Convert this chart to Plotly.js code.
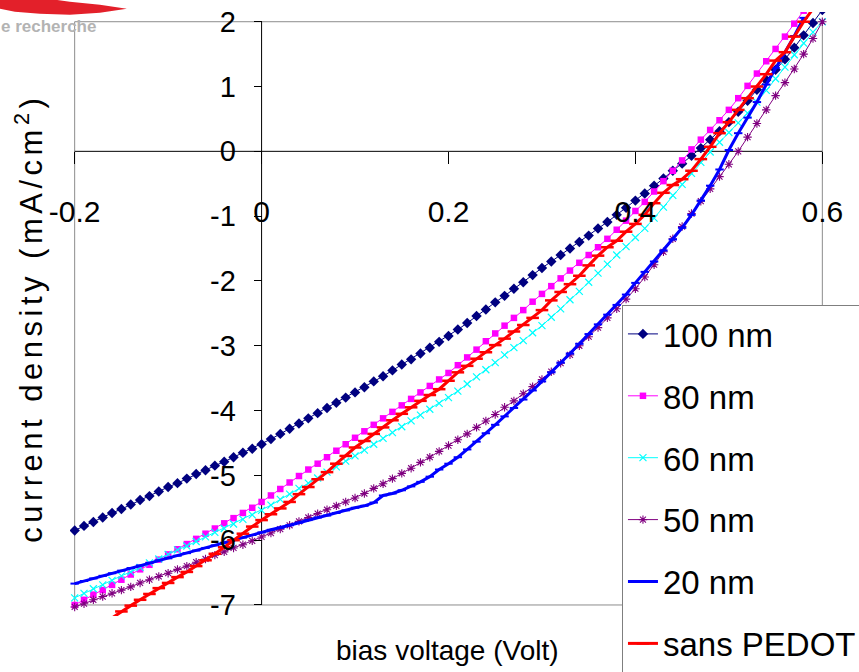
<!DOCTYPE html>
<html><head><meta charset="utf-8">
<script src="https://cdn.plot.ly/plotly-3.0.1.min.js"></script>
<style>html,body{margin:0;padding:0;background:#fff;overflow:hidden}#chart{width:859px;height:672px}</style>
</head><body><div id="chart"></div>
<script>
// ---------- data ----------
const voltage = [-0.20,-0.19,-0.18,-0.17,-0.16,-0.15,-0.14,-0.13,-0.12,-0.11,
 -0.10,-0.09,-0.08,-0.07,-0.06,-0.05,-0.04,-0.03,-0.02,-0.01,
 0.00,0.01,0.02,0.03,0.04,0.05,0.06,0.07,0.08,0.09,
 0.10,0.11,0.12,0.13,0.14,0.15,0.16,0.17,0.18,0.19,
 0.20,0.21,0.22,0.23,0.24,0.25,0.26,0.27,0.28,0.29,
 0.30,0.31,0.32,0.33,0.34,0.35,0.36,0.37,0.38,0.39,
 0.40,0.41,0.42,0.43,0.44,0.45,0.46,0.47,0.48,0.49,
 0.50,0.51,0.52,0.53,0.54,0.55,0.56,0.57,0.58,0.59,0.60];

const seriesNames = ['100 nm','80 nm','60 nm','50 nm','20 nm','sans PEDOT'];

const j100nm = [-5.85,-5.78,-5.72,-5.65,-5.58,-5.52,-5.45,-5.38,-5.32,-5.25,
 -5.18,-5.12,-5.05,-4.98,-4.92,-4.85,-4.79,-4.72,-4.65,-4.59,
 -4.52,-4.44,-4.36,-4.28,-4.20,-4.12,-4.04,-3.96,-3.88,-3.80,
 -3.72,-3.64,-3.55,-3.47,-3.38,-3.29,-3.21,-3.12,-3.03,-2.94,
 -2.85,-2.75,-2.65,-2.54,-2.44,-2.33,-2.23,-2.12,-2.02,-1.91,
 -1.80,-1.70,-1.60,-1.50,-1.40,-1.30,-1.19,-1.09,-0.98,-0.87,
 -0.76,-0.65,-0.53,-0.42,-0.30,-0.19,-0.07,0.05,0.18,0.31,
 0.45,0.61,0.78,0.95,1.10,1.26,1.42,1.60,1.79,1.98,2.18];

const j80nm = [-7.00,-6.92,-6.84,-6.77,-6.69,-6.61,-6.53,-6.45,-6.38,-6.30,
 -6.22,-6.14,-6.06,-5.98,-5.90,-5.82,-5.74,-5.66,-5.58,-5.50,
 -5.41,-5.31,-5.21,-5.11,-5.01,-4.91,-4.82,-4.72,-4.62,-4.52,
 -4.42,-4.32,-4.22,-4.12,-4.02,-3.92,-3.82,-3.72,-3.62,-3.52,
 -3.42,-3.30,-3.18,-3.06,-2.93,-2.81,-2.69,-2.57,-2.45,-2.32,
 -2.20,-2.08,-1.96,-1.84,-1.72,-1.60,-1.48,-1.35,-1.21,-1.07,
 -0.92,-0.78,-0.62,-0.46,-0.30,-0.14,0.03,0.18,0.33,0.48,
 0.64,0.82,1.01,1.20,1.39,1.58,1.77,1.97,2.17,null,null];

const j60nm = [-6.89,-6.82,-6.75,-6.69,-6.62,-6.55,-6.49,-6.42,-6.35,-6.29,
 -6.22,-6.15,-6.09,-6.02,-5.95,-5.88,-5.82,-5.75,-5.68,-5.61,
 -5.54,-5.46,-5.37,-5.29,-5.20,-5.12,-5.04,-4.95,-4.87,-4.78,
 -4.70,-4.61,-4.52,-4.43,-4.34,-4.25,-4.16,-4.07,-3.98,-3.89,
 -3.80,-3.70,-3.59,-3.48,-3.37,-3.26,-3.14,-3.03,-2.92,-2.80,
 -2.69,-2.56,-2.43,-2.29,-2.16,-2.02,-1.88,-1.74,-1.60,-1.47,
 -1.33,-1.19,-1.03,-0.86,-0.68,-0.51,-0.34,-0.17,-0.01,0.14,
 0.29,0.44,0.59,0.76,0.94,1.12,1.30,1.49,1.67,1.84,2.00];

const j50nm = [-7.03,-6.98,-6.92,-6.87,-6.82,-6.77,-6.72,-6.66,-6.61,-6.56,
 -6.51,-6.45,-6.40,-6.34,-6.29,-6.23,-6.18,-6.12,-6.07,-6.01,
 -5.95,-5.89,-5.83,-5.77,-5.71,-5.65,-5.59,-5.53,-5.47,-5.41,
 -5.35,-5.28,-5.20,-5.13,-5.05,-4.97,-4.89,-4.80,-4.72,-4.63,
 -4.54,-4.45,-4.36,-4.26,-4.16,-4.06,-3.95,-3.85,-3.74,-3.63,
 -3.52,-3.40,-3.27,-3.14,-3.00,-2.86,-2.72,-2.57,-2.43,-2.28,
 -2.12,-1.94,-1.75,-1.55,-1.35,-1.16,-0.96,-0.77,-0.58,-0.39,
 -0.20,0.00,0.22,0.43,0.64,0.86,1.06,1.27,1.50,1.74,2.00];

const j20nm = [-6.67,-6.63,-6.59,-6.55,-6.51,-6.47,-6.43,-6.39,-6.35,-6.31,
 -6.28,-6.24,-6.20,-6.16,-6.12,-6.08,-6.04,-6.00,-5.96,-5.92,
 -5.88,-5.84,-5.81,-5.77,-5.73,-5.69,-5.65,-5.62,-5.58,-5.54,
 -5.50,-5.47,-5.42,-5.31,-5.28,-5.23,-5.17,-5.10,-5.02,-4.91,
 -4.82,-4.72,-4.60,-4.48,-4.35,-4.22,-4.09,-3.96,-3.83,-3.69,
 -3.55,-3.41,-3.26,-3.12,-2.97,-2.82,-2.67,-2.52,-2.37,-2.21,
 -2.03,-1.86,-1.70,-1.53,-1.36,-1.18,-0.98,-0.76,-0.53,-0.28,
 0.02,0.28,0.52,0.76,1.03,1.29,1.53,1.78,2.06,null,null];

const jSansPedot = [null,null,null,null,-7.20,-7.10,-7.01,-6.92,-6.83,-6.74,
 -6.66,-6.57,-6.49,-6.40,-6.31,-6.21,-6.11,-6.00,-5.90,-5.79,
 -5.69,-5.60,-5.51,-5.41,-5.29,-5.18,-5.06,-4.95,-4.82,-4.70,
 -4.57,-4.47,-4.36,-4.26,-4.15,-4.05,-3.95,-3.85,-3.76,-3.67,
 -3.54,-3.41,-3.31,-3.20,-3.10,-2.99,-2.89,-2.78,-2.68,-2.57,
 -2.45,-2.30,-2.17,-2.05,-1.92,-1.76,-1.61,-1.48,-1.38,-1.24,
 -1.12,-0.98,-0.80,-0.64,-0.52,-0.43,-0.30,-0.12,0.07,0.28,
 0.45,0.64,0.82,1.00,1.19,1.40,1.53,1.77,2.00,2.20,null];

const xTickVals = [-0.2, 0, 0.2, 0.4, 0.6];
const xTickText = ['-0.2', '0', '0.2', '0.4', '0.6'];
const yTickVals = [-7, -6, -5, -4, -3, -2, -1, 0, 1, 2];
const yTickText = ['-7', '-6', '-5', '-4', '-3', '-2', '-1', '0', '1', '2'];
const xTitle = 'bias voltage (Volt)';
const yTitle = 'current density (mA/cm<sup>2</sup>)';
const logoText = 'e recherche';

// ---------- layout geometry ----------
const W = 859, H = 672;
const ML = 70.13, MR = 32.0, MT = 12.29, MB = 56.2;
const PW = W - ML - MR, PH = H - MT - MB;
const xRange = [-0.205, 0.605];
const yRange = [-7.17, 2.15];
const FONT = '"Liberation Sans", Arial, sans-serif';
function pxX(px) { return (px - ML) / PW; }
function pxY(py) { return 1 - (py - MT) / PH; }

const styles = [
  {color: '#000080', width: 1, symbol: 'diamond', size: 8, mlw: 0},
  {color: '#FF00FF', width: 1, symbol: 'square', size: 6.5, mlw: 0},
  {color: '#00FFFF', width: 1, symbol: 'x-thin', size: 7, mlw: 1.2},
  {color: '#800080', width: 1, symbol: 'asterisk', size: 7, mlw: 1.1},
  {color: '#0000FF', width: 3, symbol: 'line-ew', size: 6, mlw: 2},
  {color: '#FF0000', width: 3, symbol: 'line-ew', size: 9, mlw: 2.5}
];
const series = [j100nm, j80nm, j60nm, j50nm, j20nm, jSansPedot];

const traces = series.map((ys, i) => {
  const s = styles[i];
  return {
    type: 'scatter', mode: 'lines+markers', name: seriesNames[i],
    legendgroup: seriesNames[i],
    x: voltage, y: ys,
    line: {color: s.color, width: s.width},
    marker: {symbol: s.symbol, size: s.size, color: s.color,
             line: {color: s.color, width: s.mlw}},
    connectgaps: false
  };
});

const yAxisPos = (0 - xRange[0]) / (xRange[1] - xRange[0]);
const xAxisPos = (0 - yRange[0]) / (yRange[1] - yRange[0]);

function P(pts) {
  return pts.map((p, i) => (i === 0 ? 'M' : 'L') + pxX(p[0]).toFixed(4) + ',' + pxY(p[1]).toFixed(4)).join(' ') + ' Z';
}

const layout = {
  width: W, height: H,
  margin: {l: ML, r: MR, t: MT, b: MB, autoexpand: false},
  paper_bgcolor: '#fff', plot_bgcolor: '#fff',
  showlegend: true,
  xaxis: {
    range: xRange, anchor: 'free', position: xAxisPos,
    tickmode: 'array', tickvals: xTickVals, ticktext: xTickText,
    ticks: 'outside', ticklen: 12, tickwidth: 1, tickcolor: '#000',
    ticklabelstandoff: 22,
    tickfont: {family: FONT, size: 30, color: '#000'},
    showgrid: false, zeroline: false, showline: false
  },
  yaxis: {
    range: yRange, anchor: 'free', position: yAxisPos,
    tickmode: 'array', tickvals: yTickVals, ticktext: yTickText,
    ticks: 'outside', ticklen: 8, tickwidth: 1, tickcolor: '#000',
    ticklabelstandoff: 12,
    tickfont: {family: FONT, size: 29, color: '#000'},
    showgrid: false, zeroline: false, showline: false
  },
  legend: {
    x: pxX(622), y: pxY(305), xanchor: 'left', yanchor: 'top',
    bgcolor: '#fff', bordercolor: '#7f7f7f', borderwidth: 1,
    font: {family: FONT, size: 33, color: '#000'},
    tracegroupgap: 16, itemwidth: 30
  },
  shapes: [
    {type: 'rect', xref: 'x', yref: 'y', x0: -0.2, x1: 0.6, y0: -7, y1: 2,
     line: {color: '#8c8c8c', width: 1}, layer: 'below'},
    {type: 'line', xref: 'x', yref: 'y', x0: 0, x1: 0, y0: -7, y1: 2,
     line: {color: '#000', width: 1}, layer: 'below'},
    {type: 'line', xref: 'x', yref: 'y', x0: -0.2, x1: 0.6, y0: 0, y1: 0,
     line: {color: '#000', width: 1}, layer: 'below'},
    {type: 'path', xref: 'paper', yref: 'paper',
     path: P([[0,-2],[40,-2],[70,2],[100,5],[127,9],[100,13],[70,15],[40,14],[15,12],[0,9]]),
     fillcolor: '#e3202a', line: {width: 0}}
  ],
  annotations: [
    {xref: 'paper', yref: 'paper', x: pxX(448), y: pxY(650), xanchor: 'center', yanchor: 'middle',
     text: xTitle, showarrow: false, font: {family: FONT, size: 28, color: '#000'}},
    {xref: 'paper', yref: 'paper', x: pxX(29), y: pxY(318), xanchor: 'center', yanchor: 'middle',
     text: yTitle, textangle: -90, showarrow: false, font: {family: FONT, size: 31, color: '#000'}},
    {xref: 'paper', yref: 'paper', x: pxX(-1), y: pxY(27), xanchor: 'left', yanchor: 'middle',
     text: '<b>' + logoText + '</b>', showarrow: false, font: {family: FONT, size: 17, color: '#b3b3b3'}}
  ]
};

Plotly.newPlot('chart', traces, layout, {displayModeBar: false, staticPlot: true}).then(() => {
  document.querySelectorAll('.annotation-text').forEach(el => {
    if (el.textContent.indexOf('current') === 0) el.style.letterSpacing = '4.5px';
  });
});
</script>
</body></html>
